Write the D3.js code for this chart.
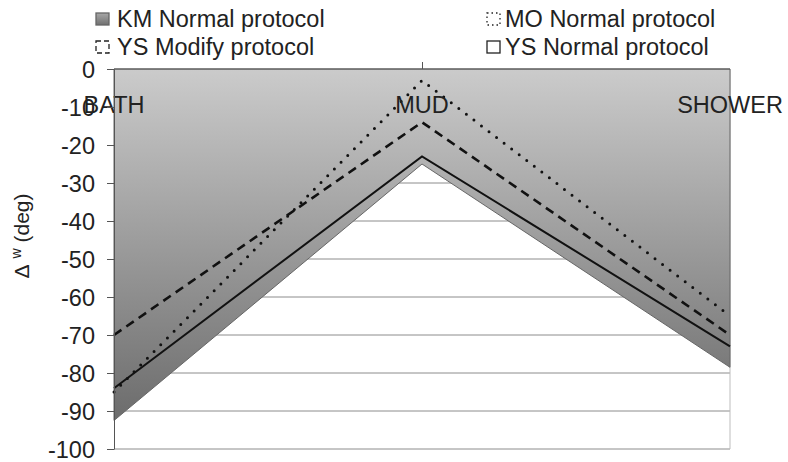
<!DOCTYPE html>
<html>
<head>
<meta charset="utf-8">
<script src="https://cdn.jsdelivr.net/npm/d3@7"></script>
<style>
  html, body { margin: 0; padding: 0; background: #fff; }
  svg { display: block; font-family: "Liberation Sans", Arial, sans-serif; }
</style>
</head>
<body>
<svg id="chart" width="788" height="462"></svg>
<script>
// Water contact angle change per wash protocol
const categories = ["BATH", "MUD", "SHOWER"];
const kmNormal = [-92.5, -25, -78.5];
const moNormal = [-85, -3, -65];
const ysModify = [-70, -14, -70];
const ysNormal = [-84, -23, -73];
const yTicks = [0, -10, -20, -30, -40, -50, -60, -70, -80, -90, -100];
const gridTicks = [-10, -20, -30, -40, -50, -60, -70, -80, -90, -100];
const legendLabels = ["KM Normal protocol", "MO Normal protocol", "YS Modify protocol", "YS Normal protocol"];

const svg = d3.select("#chart");
const FS = 23.5;

const x = d3.scalePoint().domain(categories).range([114, 730]).padding(0);
const y = d3.scaleLinear().domain([-100, 0]).range([449, 69]);

// gradient for the KM area
const defs = svg.append("defs");
const grad = defs.append("linearGradient")
  .attr("id", "kmGrad")
  .attr("gradientUnits", "userSpaceOnUse")
  .attr("x1", 0).attr("x2", 0)
  .attr("y1", y(0)).attr("y2", y(-92.5));
grad.append("stop").attr("offset", 0).attr("stop-color", "#cbcbcb");
grad.append("stop").attr("offset", 1).attr("stop-color", "#6c6c6c");

const legGrad = defs.append("linearGradient")
  .attr("id", "legGrad").attr("x1", 0).attr("x2", 0).attr("y1", 0).attr("y2", 1);
legGrad.append("stop").attr("offset", 0).attr("stop-color", "#a8a8a8");
legGrad.append("stop").attr("offset", 1).attr("stop-color", "#707070");

// horizontal gridlines
svg.append("g")
  .selectAll("line")
  .data(gridTicks)
  .join("line")
  .attr("x1", x("BATH")).attr("x2", x("SHOWER"))
  .attr("y1", d => y(d)).attr("y2", d => y(d))
  .attr("stroke", "#8c8c8c").attr("stroke-width", 1);

// right border of the plot area
svg.append("line")
  .attr("x1", x("SHOWER")).attr("x2", x("SHOWER"))
  .attr("y1", y(0)).attr("y2", y(-100))
  .attr("stroke", "#bdbdbd").attr("stroke-width", 1);

// KM Normal area, filled from the 0 axis down to its values
const area = d3.area()
  .x((d, i) => x(categories[i]))
  .y0(y(0))
  .y1(d => y(d));
svg.append("path")
  .datum(kmNormal)
  .attr("d", area)
  .attr("fill", "url(#kmGrad)")
  .attr("stroke", "#666")
  .attr("stroke-width", 1);

const line = d3.line().x((d, i) => x(categories[i])).y(d => y(d));

// YS Normal (solid)
svg.append("path").datum(ysNormal).attr("d", line)
  .attr("fill", "none").attr("stroke", "#111").attr("stroke-width", 2);
// YS Modify (dashed)
svg.append("path").datum(ysModify).attr("d", line)
  .attr("fill", "none").attr("stroke", "#111").attr("stroke-width", 2.6)
  .attr("stroke-dasharray", "9 6");
// MO Normal (dotted)
svg.append("path").datum(moNormal).attr("d", line)
  .attr("fill", "none").attr("stroke", "#111").attr("stroke-width", 3)
  .attr("stroke-linecap", "round").attr("stroke-dasharray", "0 9.5");

// category axis along the 0 line
const xAxis = svg.append("g")
  .attr("transform", `translate(0,${y(0)})`)
  .call(d3.axisTop(x).tickValues(["MUD"]).tickSize(7).tickFormat(""));
xAxis.select(".domain").attr("stroke", "#555").attr("d", `M${x("BATH")},0H${x("SHOWER")}`);
xAxis.selectAll(".tick line").attr("stroke", "#555");

// category labels
svg.append("g")
  .selectAll("text")
  .data(categories)
  .join("text")
  .attr("x", d => x(d))
  .attr("y", 113)
  .attr("text-anchor", "middle")
  .attr("font-size", FS)
  .attr("fill", "#222")
  .text(d => d);

// value axis
const yAxis = svg.append("g")
  .attr("transform", `translate(${x("BATH")},0)`)
  .call(d3.axisLeft(y).tickValues(yTicks).tickSize(7).tickSizeOuter(0).tickPadding(12)
    .tickFormat(d => String(d)));
yAxis.select(".domain").attr("stroke", "#555");
yAxis.selectAll(".tick line").attr("stroke", "#555");
yAxis.selectAll(".tick text")
  .attr("font-size", FS)
  .attr("font-family", "Liberation Sans, Arial, sans-serif")
  .attr("fill", "#222")
  .attr("dy", "0.35em");

// axis title
const title = svg.append("text")
  .attr("transform", "translate(29,236) rotate(-90)")
  .attr("text-anchor", "middle")
  .attr("font-size", 21)
  .attr("fill", "#222");
title.append("tspan").text("\u0394");
title.append("tspan").attr("dx", 6).attr("font-size", 14).attr("baseline-shift", "super").text("w");
title.append("tspan").attr("dx", 0).text(" (deg)");

// legend
const legendItems = [
  { label: legendLabels[0], sx: 96, tx: 117, by: 27, fill: "url(#legGrad)", stroke: "#666", dash: null },
  { label: legendLabels[1], sx: 487, tx: 505, by: 27, fill: "none", stroke: "#222", dash: "1.5 3" },
  { label: legendLabels[2], sx: 96, tx: 117, by: 55, fill: "none", stroke: "#222", dash: "5 3" },
  { label: legendLabels[3], sx: 487, tx: 505, by: 55, fill: "#fff", stroke: "#222", dash: null }
];
const leg = svg.append("g");
legendItems.forEach(it => {
  leg.append("rect")
    .attr("x", it.sx).attr("y", it.by - 14)
    .attr("width", 13).attr("height", 12)
    .attr("fill", it.fill).attr("stroke", it.stroke).attr("stroke-width", 1.3)
    .attr("stroke-dasharray", it.dash);
  leg.append("text")
    .attr("x", it.tx).attr("y", it.by)
    .attr("font-size", FS).attr("fill", "#222")
    .text(it.label);
});
</script>
</body>
</html>
